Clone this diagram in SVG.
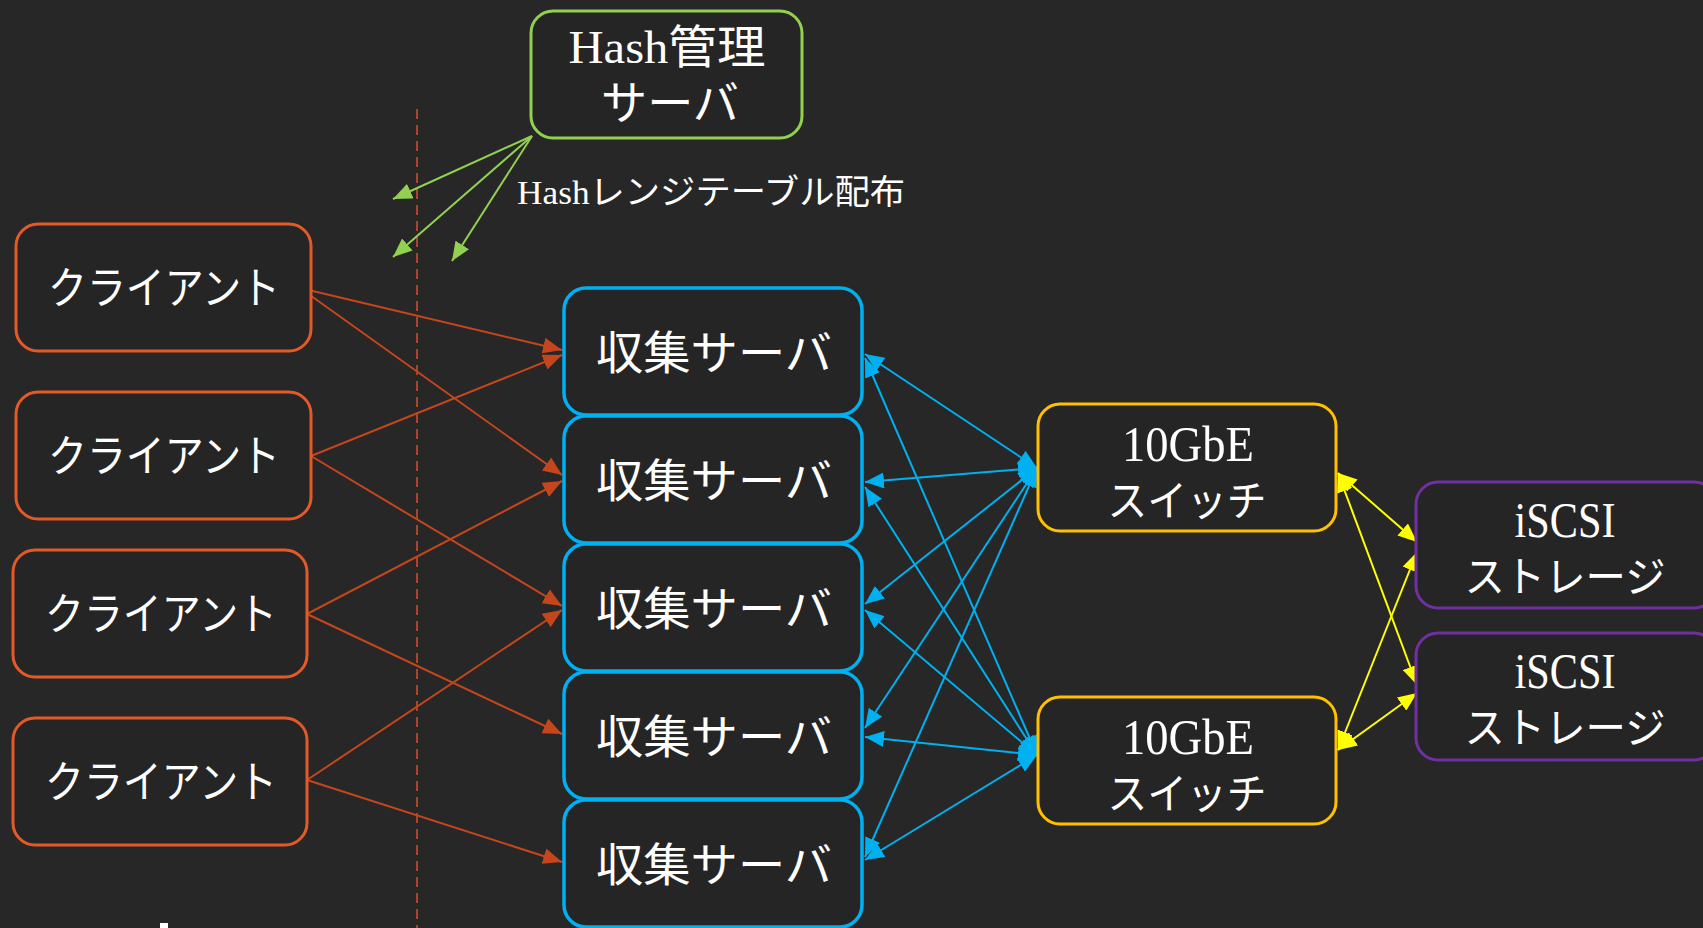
<svg xmlns="http://www.w3.org/2000/svg" width="1703" height="928" viewBox="0 0 1703 928">
<defs>
<style>
.box{fill:#252525;stroke-width:3}
.cl{stroke:#e35a28}
.sv{stroke:#00b0f0;stroke-width:3.5}
.sw{stroke:#ffc000}
.st{stroke:#7030a0}
.hs{stroke:#92d050}
.jp{font-family:"Noto Sans CJK JP","Noto Sans",sans-serif;fill:#ffffff;text-anchor:middle}
.lt{font-family:"Liberation Serif","Noto Sans CJK JP",serif;fill:#ffffff;text-anchor:middle}
.ln{fill:none;stroke-width:2}
</style>
<marker id="ao" markerUnits="userSpaceOnUse" markerWidth="20" markerHeight="16" refX="19" refY="8" orient="auto"><path d="M0,0 L19,8 L0,16 z" fill="#c5461c"/></marker>
<marker id="ab" markerUnits="userSpaceOnUse" markerWidth="20" markerHeight="16" refX="19" refY="8" orient="auto-start-reverse"><path d="M0,0 L19,8 L0,16 z" fill="#00b0f0"/></marker>
<marker id="ay" markerUnits="userSpaceOnUse" markerWidth="20" markerHeight="16" refX="19" refY="8" orient="auto-start-reverse"><path d="M0,0 L19,8 L0,16 z" fill="#ffff00"/></marker>
<marker id="ag" markerUnits="userSpaceOnUse" markerWidth="20" markerHeight="16" refX="19" refY="8" orient="auto"><path d="M0,0 L19,8 L0,16 z" fill="#92d050"/></marker>
</defs>
<rect x="0" y="0" width="1703" height="928" fill="#272727"/>
<line x1="417" y1="109" x2="417" y2="928" stroke="#c8502a" stroke-width="1.6" stroke-dasharray="10 6"/>

<g id="connectors">
<g stroke="#92d050" class="ln" marker-end="url(#ag)">
<line x1="532" y1="136" x2="393" y2="199"/>
<line x1="532" y1="136" x2="393" y2="257"/>
<line x1="532" y1="136" x2="452" y2="261"/>
</g>
<g stroke="#c5461c" class="ln" marker-end="url(#ao)">
<line x1="300" y1="288" x2="562" y2="350"/>
<line x1="300" y1="288" x2="562" y2="475"/>
<line x1="311" y1="456" x2="562" y2="355"/>
<line x1="311" y1="456" x2="562" y2="606"/>
<line x1="307" y1="614" x2="562" y2="481"/>
<line x1="307" y1="614" x2="562" y2="734"/>
<line x1="307" y1="780" x2="562" y2="610"/>
<line x1="307" y1="780" x2="562" y2="862"/>
</g>
<g stroke="#00b0f0" class="ln" marker-start="url(#ab)" marker-end="url(#ab)">
<line x1="865" y1="354" x2="1037" y2="468"/>
<line x1="865" y1="482" x2="1037" y2="468"/>
<line x1="865" y1="604" x2="1037" y2="468"/>
<line x1="865" y1="728" x2="1037" y2="468"/>
<line x1="865" y1="857" x2="1037" y2="468"/>
<line x1="865" y1="358" x2="1037" y2="755"/>
<line x1="865" y1="487" x2="1037" y2="755"/>
<line x1="865" y1="610" x2="1037" y2="755"/>
<line x1="865" y1="737" x2="1037" y2="755"/>
<line x1="865" y1="860" x2="1037" y2="755"/>
</g>
<g stroke="#ffff00" class="ln" marker-start="url(#ay)" marker-end="url(#ay)">
<line x1="1338" y1="473" x2="1417" y2="542"/>
<line x1="1338" y1="473" x2="1417" y2="685"/>
<line x1="1338" y1="750" x2="1417" y2="552"/>
<line x1="1338" y1="750" x2="1417" y2="693"/>
</g>
</g>

<g id="hash">
<rect class="box hs" x="531" y="11" width="271" height="127" rx="22"/>
<text class="lt" x="667" y="63" font-size="46" textLength="197" lengthAdjust="spacingAndGlyphs">Hash管理</text>
<text class="jp" x="670" y="119" font-size="46" textLength="138" lengthAdjust="spacingAndGlyphs">サーバ</text>
</g>
<text class="lt" x="711" y="204" font-size="34" textLength="388" lengthAdjust="spacingAndGlyphs">Hashレンジテーブル配布</text>

<g id="client1">
<rect class="box cl" x="16" y="224" width="295" height="127" rx="22"/>
<text class="jp" x="164" y="304" font-size="44" textLength="232" lengthAdjust="spacingAndGlyphs">クライアント</text>
</g>
<g id="client2">
<rect class="box cl" x="16" y="392" width="295" height="127" rx="22"/>
<text class="jp" x="164" y="472" font-size="44" textLength="232" lengthAdjust="spacingAndGlyphs">クライアント</text>
</g>
<g id="client3">
<rect class="box cl" x="13" y="550" width="294" height="127" rx="22"/>
<text class="jp" x="161" y="630" font-size="44" textLength="232" lengthAdjust="spacingAndGlyphs">クライアント</text>
</g>
<g id="client4">
<rect class="box cl" x="13" y="718" width="294" height="127" rx="22"/>
<text class="jp" x="161" y="798" font-size="44" textLength="232" lengthAdjust="spacingAndGlyphs">クライアント</text>
</g>

<g id="server1">
<rect class="box sv" x="564" y="288" width="298" height="127" rx="22"/>
<text class="jp" x="714" y="369" font-size="46" textLength="236" lengthAdjust="spacingAndGlyphs">収集サーバ</text>
</g>
<g id="server2">
<rect class="box sv" x="564" y="416" width="298" height="127" rx="22"/>
<text class="jp" x="714" y="497" font-size="46" textLength="236" lengthAdjust="spacingAndGlyphs">収集サーバ</text>
</g>
<g id="server3">
<rect class="box sv" x="564" y="544" width="298" height="127" rx="22"/>
<text class="jp" x="714" y="625" font-size="46" textLength="236" lengthAdjust="spacingAndGlyphs">収集サーバ</text>
</g>
<g id="server4">
<rect class="box sv" x="564" y="672" width="298" height="127" rx="22"/>
<text class="jp" x="714" y="753" font-size="46" textLength="236" lengthAdjust="spacingAndGlyphs">収集サーバ</text>
</g>
<g id="server5">
<rect class="box sv" x="564" y="800" width="298" height="127" rx="22"/>
<text class="jp" x="714" y="881" font-size="46" textLength="236" lengthAdjust="spacingAndGlyphs">収集サーバ</text>
</g>

<g id="switch1">
<rect class="box sw" x="1038" y="404" width="298" height="127" rx="22"/>
<text class="lt" x="1188" y="461" font-size="50" textLength="132" lengthAdjust="spacingAndGlyphs">10GbE</text>
<text class="jp" x="1187" y="516" font-size="42" textLength="159" lengthAdjust="spacingAndGlyphs">スイッチ</text>
</g>
<g id="switch2">
<rect class="box sw" x="1038" y="697" width="298" height="127" rx="22"/>
<text class="lt" x="1188" y="754" font-size="50" textLength="132" lengthAdjust="spacingAndGlyphs">10GbE</text>
<text class="jp" x="1187" y="809" font-size="42" textLength="159" lengthAdjust="spacingAndGlyphs">スイッチ</text>
</g>

<g id="storage1">
<rect class="box st" x="1416" y="482" width="300" height="126" rx="22"/>
<text class="lt" x="1565" y="537" font-size="50" textLength="101" lengthAdjust="spacingAndGlyphs">iSCSI</text>
<text class="jp" x="1565" y="592" font-size="42" textLength="201" lengthAdjust="spacingAndGlyphs">ストレージ</text>
</g>
<g id="storage2">
<rect class="box st" x="1416" y="633" width="300" height="127" rx="22"/>
<text class="lt" x="1565" y="688" font-size="50" textLength="101" lengthAdjust="spacingAndGlyphs">iSCSI</text>
<text class="jp" x="1565" y="743" font-size="42" textLength="201" lengthAdjust="spacingAndGlyphs">ストレージ</text>
</g>

<rect x="160" y="923" width="8" height="5" fill="#ffffff"/>
</svg>
